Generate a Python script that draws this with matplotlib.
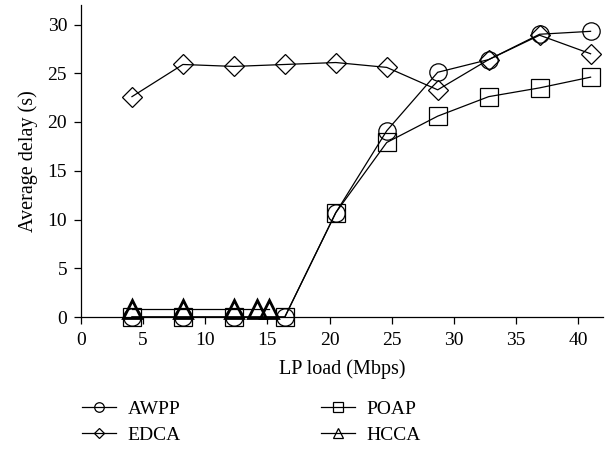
import matplotlib
matplotlib.use("Agg")
import matplotlib.pyplot as plt

x_load = [4.1, 8.2, 12.3, 16.4, 20.5, 24.6, 28.7, 32.8, 36.9, 41.0]
awpp = [0.0, 0.0, 0.0, 0.0, 10.7, 19.1, 25.1, 26.4, 29.0, 29.3]
poap = [0.0, 0.0, 0.0, 0.0, 10.7, 17.9, 20.6, 22.6, 23.5, 24.6]
edca = [22.6, 25.9, 25.7, 25.9, 26.1, 25.6, 23.3, 26.4, 28.9, 27.0]
x_hcca = [4.1, 8.2, 12.3, 14.2, 15.1]
hcca = [0.8, 0.8, 0.8, 0.8, 0.8]

xticks = [0, 5, 10, 15, 20, 25, 30, 35, 40]
yticks = [0, 5, 10, 15, 20, 25, 30]

plt.rcParams['font.family'] = ['Liberation Serif', 'DejaVu Serif']
plt.rcParams['font.size'] = 14

fig = plt.figure(figsize=(6.11, 4.51), dpi=100)
ax = fig.add_axes([81/611, 1 - 317/451, (603-81)/611, (317-5)/451])

lw = 0.9
ms = 12.5
kw = dict(color='black', lw=lw, mfc='none', mec='black', mew=0.9, clip_on=False)
l1, = ax.plot(x_load, awpp, marker='o', ms=ms, label='AWPP', **kw)
l2, = ax.plot(x_load, edca, marker='D', ms=ms*0.78, label='EDCA', **kw)
l3, = ax.plot(x_load, poap, marker='s', ms=ms*1.02, label='POAP', **kw)
l4, = ax.plot(x_hcca, hcca, marker='^', ms=ms*1.05, label='HCCA',
              color='black', lw=lw, mfc='none', mec='black', mew=2.0, clip_on=False)

ax.set_xlim(0, 42)
ax.set_ylim(0, 32)
ax.set_xticks(xticks)
ax.set_yticks(yticks)
for s in ['top', 'right']:
    ax.spines[s].set_visible(False)
for s in ['left', 'bottom']:
    ax.spines[s].set_linewidth(0.9)
ax.tick_params(direction='out', length=5, width=0.9, labelsize=14)
ax.tick_params(axis='x', pad=6)
ax.tick_params(axis='y', pad=5)
ax.set_xlabel('LP load (Mbps)', fontsize=14.5, labelpad=7)
ax.set_ylabel('Average delay (s)', fontsize=14.5, labelpad=7)

handles = [l1, l2, l3, l4]
leg = fig.legend(handles=handles, labels=[h.get_label() for h in handles],
                 ncol=2, loc='upper left', bbox_to_anchor=(82/611, 1 - 400/451),
                 frameon=False, handlelength=1.75, handletextpad=0.6,
                 columnspacing=7.2, labelspacing=0.45, markerscale=0.55,
                 fontsize=14, borderaxespad=0, borderpad=0)
for h in leg.legend_handles:
    h.set_markeredgewidth(0.9)

fig.savefig('out.png', dpi=100)
